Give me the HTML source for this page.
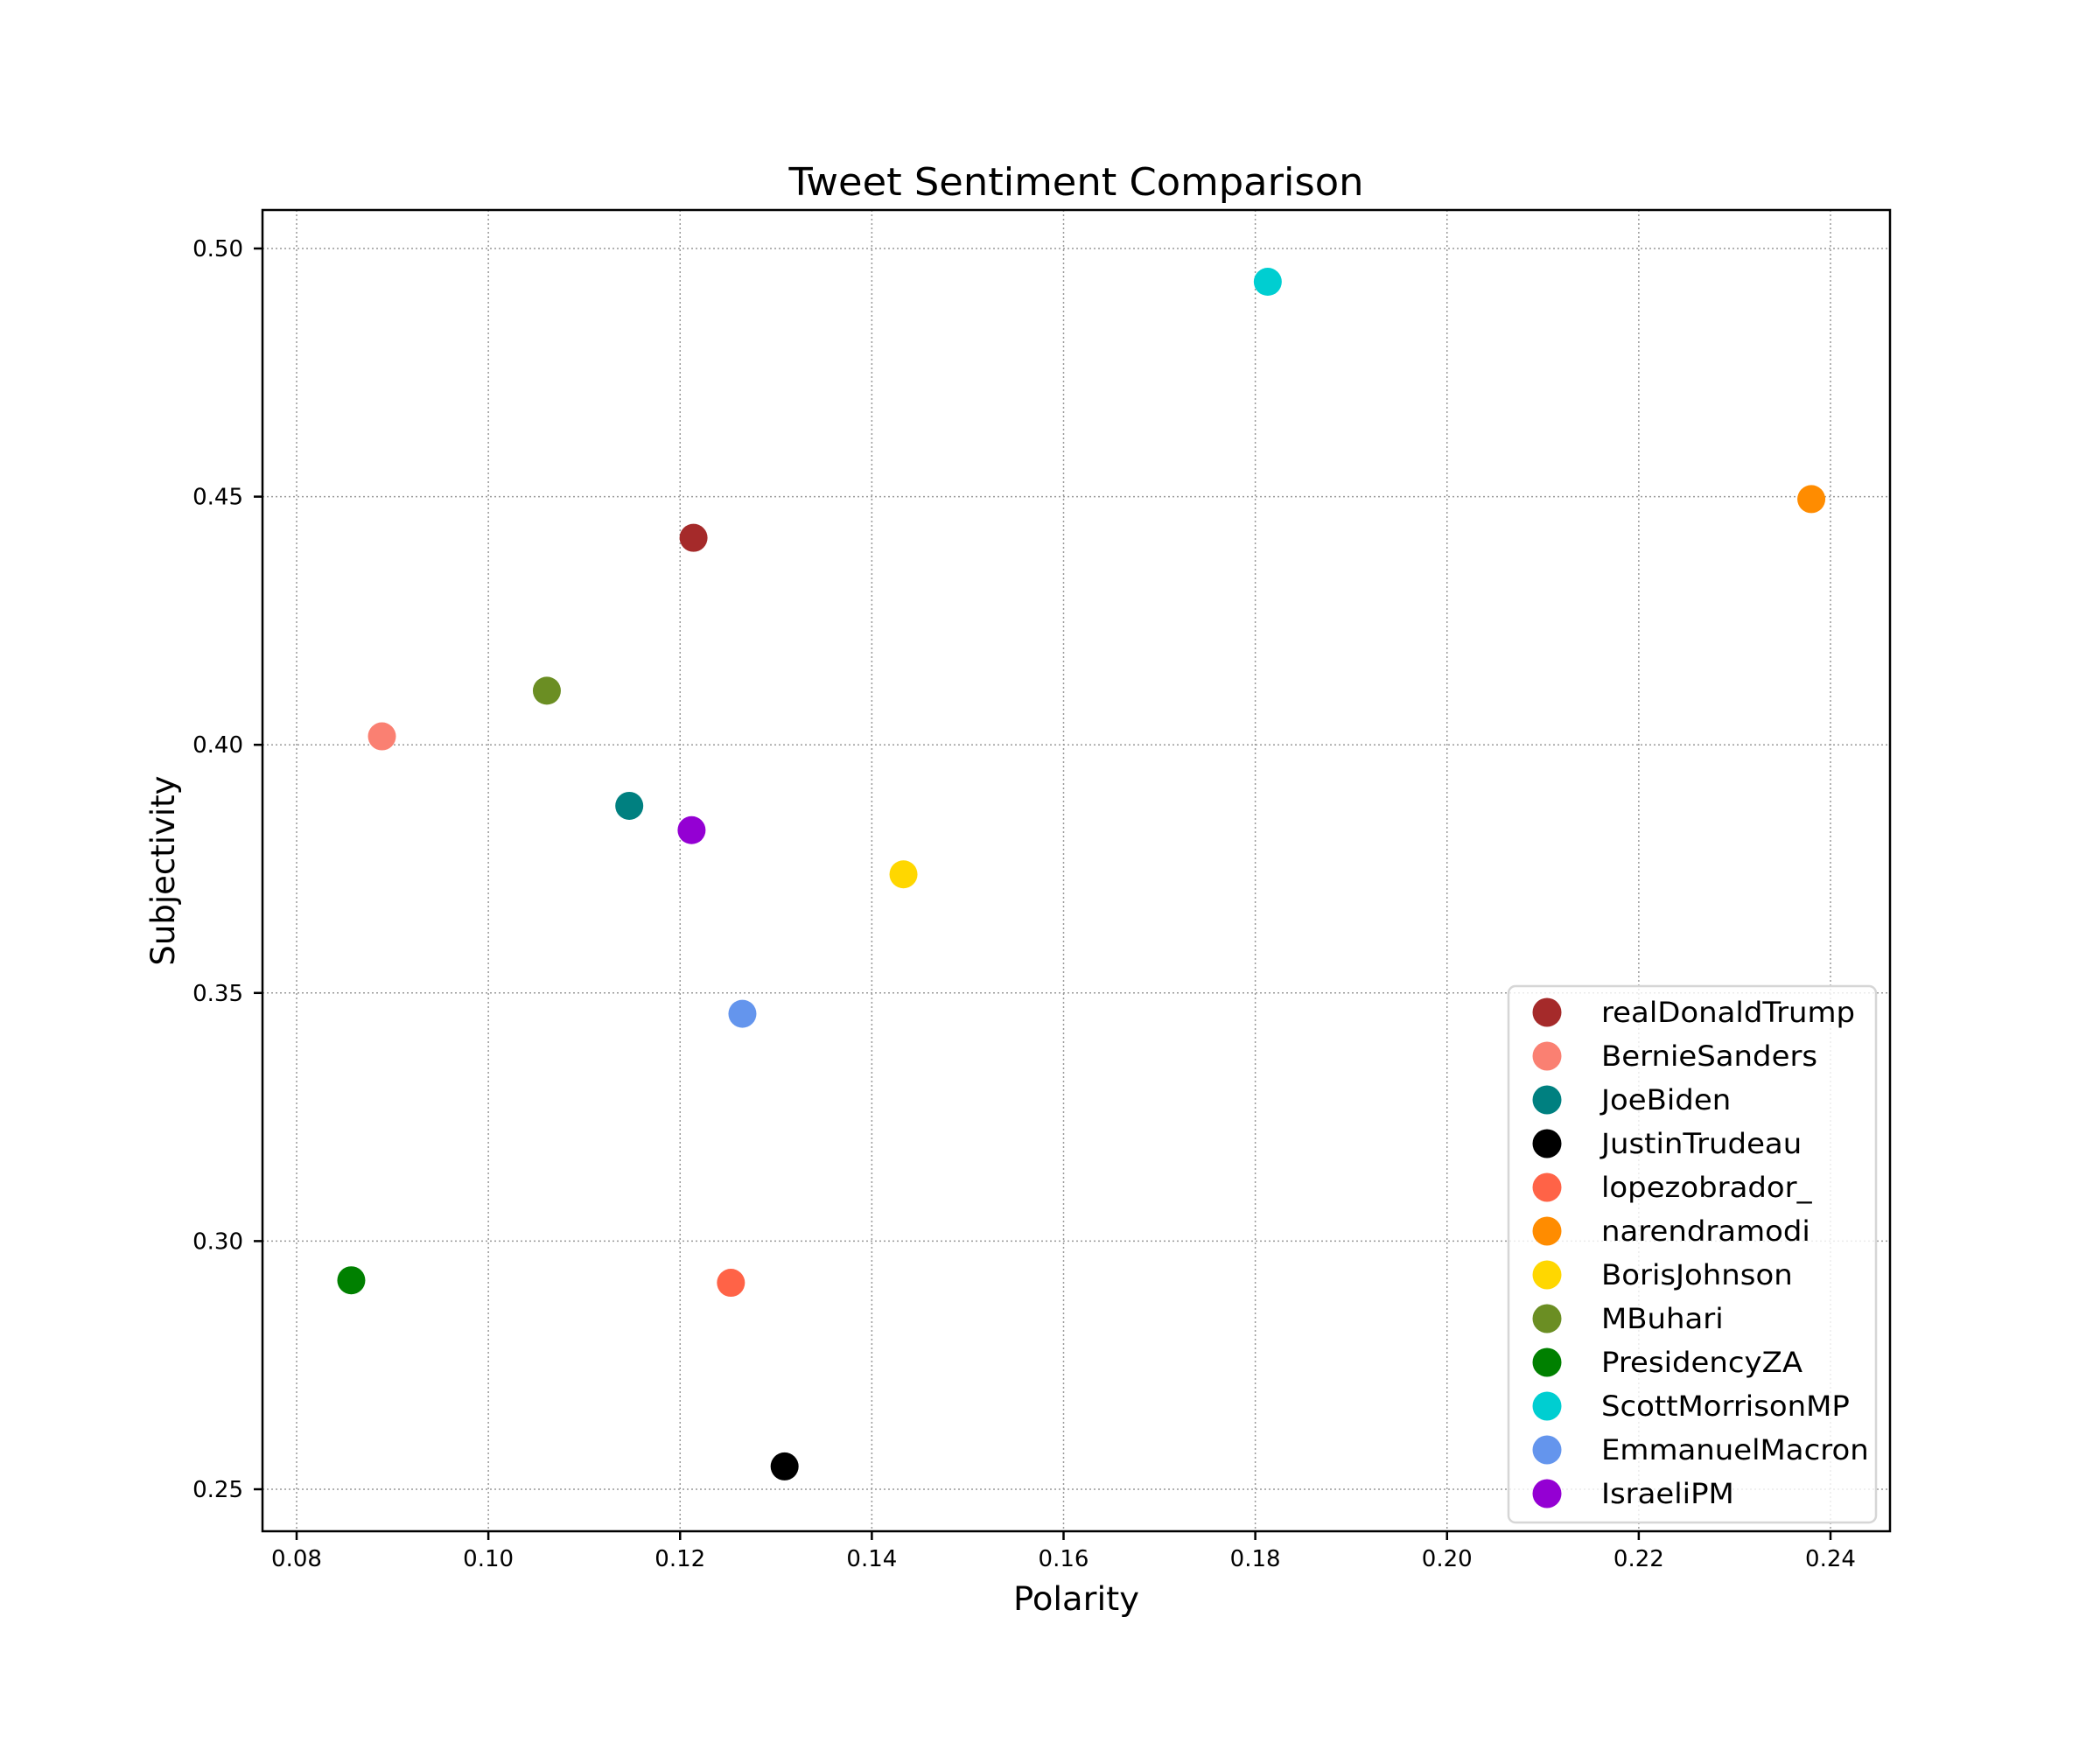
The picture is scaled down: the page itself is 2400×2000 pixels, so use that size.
<!DOCTYPE html>
<html><head><meta charset="utf-8">
<style>
html,body{margin:0;padding:0;background:#fff;}
svg{display:block;font-family:"DejaVu Sans","Liberation Sans",sans-serif;}
</style></head>
<body>
<svg id="chart" width="2400" height="2000" viewBox="0 0 2400 2000" xmlns="http://www.w3.org/2000/svg">
<rect x="0" y="0" width="2400" height="2000" fill="#fff"/>
<g id="grid"></g>
<g id="points"></g>
<rect x="300" y="240" width="1860" height="1510" fill="none" stroke="#000" stroke-width="2.5"/>
<g id="ticks"></g>
<text x="1230" y="223" font-size="44" text-anchor="middle" textLength="657" lengthAdjust="spacingAndGlyphs">Tweet Sentiment Comparison</text>
<text x="1230" y="1840" font-size="37" text-anchor="middle" textLength="144" lengthAdjust="spacingAndGlyphs">Polarity</text>
<text x="0" y="0" font-size="37" text-anchor="middle" transform="translate(199,995) rotate(-90)">Subjectivity</text>
<g id="legend"></g>
</svg>
<script>
const names = ["realDonaldTrump","BernieSanders","JoeBiden","JustinTrudeau","lopezobrador_","narendramodi","BorisJohnson","MBuhari","PresidencyZA","ScottMorrisonMP","EmmanuelMacron","IsraeliPM"];
const colors = ["#a52a2a","#fa8072","#008080","#000000","#ff6347","#ff8c00","#ffd700","#6b8e23","#008000","#00ced1","#6495ed","#9400d3"];
const polarity = [0.1214,0.0889,0.1147,0.1309,0.1253,0.2380,0.1433,0.1061,0.0857,0.1813,0.1265,0.1212];
const subjectivity = [0.4417,0.4017,0.3877,0.2546,0.2916,0.4495,0.3739,0.4109,0.2921,0.4933,0.3458,0.3828];
const xTicks = [0.08,0.10,0.12,0.14,0.16,0.18,0.20,0.22,0.24];
const yTicks = [0.25,0.30,0.35,0.40,0.45,0.50];

const NS="http://www.w3.org/2000/svg";
function X(v){return 339+(v-0.08)/0.16*(2092-339);}
function Y(v){return 284+(0.50-v)/0.25*(1702-284);}
function mk(tag,attrs,parent){const e=document.createElementNS(NS,tag);for(const k in attrs)e.setAttribute(k,attrs[k]);parent.appendChild(e);return e;}
const grid=document.getElementById('grid'),ticks=document.getElementById('ticks'),pts=document.getElementById('points'),leg=document.getElementById('legend');
xTicks.forEach(v=>{
  const x=X(v);
  const g=mk('line',{x1:x,x2:x,y1:240,y2:1750,stroke:'#999',"stroke-width":1.5,"stroke-dasharray":"2,3"},grid);
  
  
  const t=mk('line',{x1:x,x2:x,y1:1750,y2:1760,stroke:'#000',"stroke-width":2.5},ticks);
  
  
  const l=mk('text',{x:x,y:1790,"font-size":26,"text-anchor":"middle"},ticks);
  l.textContent=v.toFixed(2);
  
  
});
yTicks.forEach(v=>{
  const y=Y(v);
  const g=mk('line',{x1:300,x2:2160,y1:y,y2:y,stroke:'#999',"stroke-width":1.5,"stroke-dasharray":"2,3"},grid);
  
  
  const t=mk('line',{x1:290,x2:300,y1:y,y2:y,stroke:'#000',"stroke-width":2.5},ticks);
  
  
  const l=mk('text',{x:278,y:y+9,"font-size":26,"text-anchor":"end"},ticks);
  l.textContent=v.toFixed(2);
  
  
});
names.forEach((n,i)=>{
  const c=mk('circle',{cx:X(polarity[i]),cy:Y(subjectivity[i]),r:16,fill:colors[i]},pts);
  
  
});
const box=mk('rect',{x:1724,y:1127,width:420,height:613,rx:8,fill:'#fff',"fill-opacity":0.8,stroke:'#d6d6d6',"stroke-width":2.5},leg);


names.forEach((n,i)=>{
  const y=1157+i*50;
  const g=mk('g',{},leg);
  
  
  mk('circle',{cx:1768,cy:y,r:16.5,fill:colors[i]},g);
  const t=mk('text',{x:1830,y:y+11,"font-size":32},g);
  t.setAttribute('transform','translate(1830,0) scale(1.06,1) translate(-1830,0)');
  t.textContent=n;
});
</script>
</body></html>
